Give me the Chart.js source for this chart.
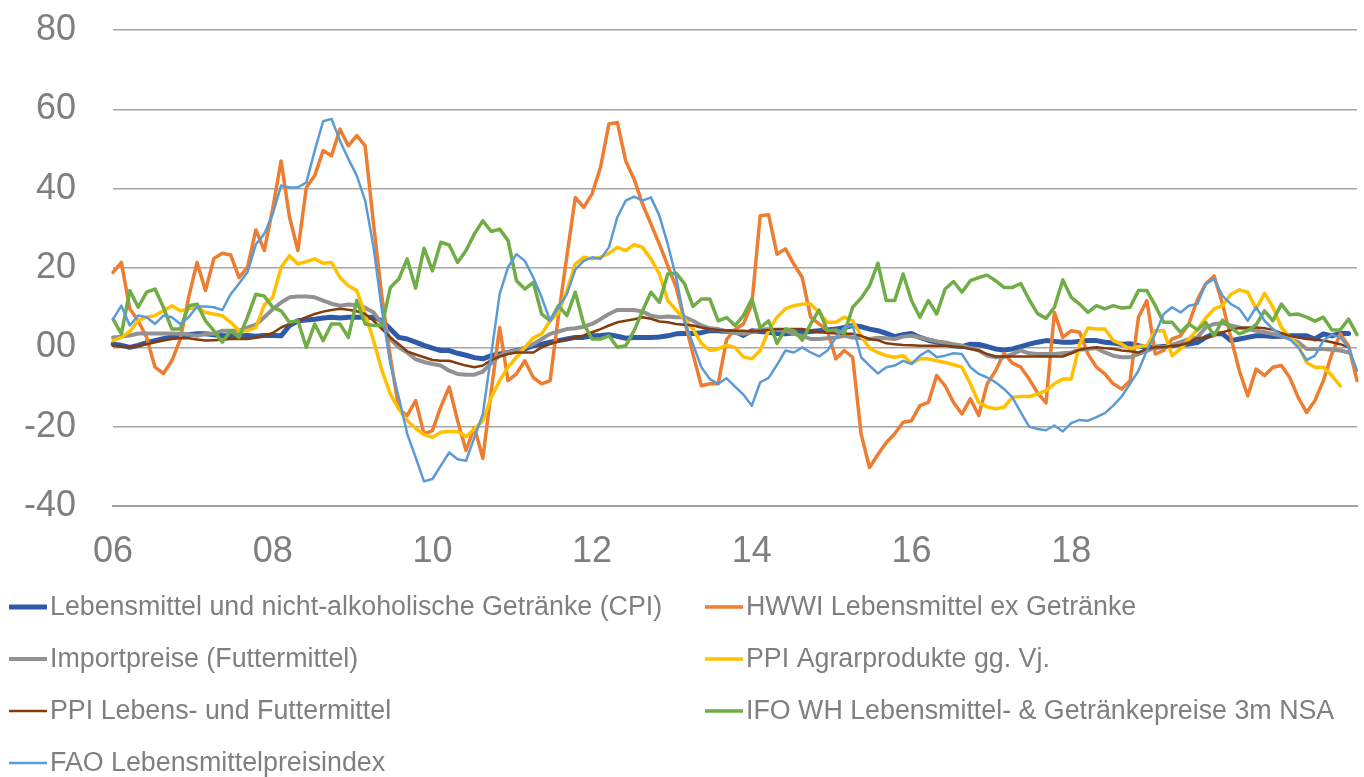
<!DOCTYPE html>
<html>
<head>
<meta charset="utf-8">
<script src="https://cdn.jsdelivr.net/npm/chart.js@4.4.1/dist/chart.umd.min.js"></script>
<style>
  html, body { margin: 0; padding: 0; background: #ffffff; }
  #wrap { width: 1364px; height: 777px; position: relative; }
</style>
</head>
<body>
<div id="wrap"><canvas id="c" width="1364" height="777"></canvas></div>
<script>
// ---- Data (monthly) ----
const tickLabels = ['06', '08', '10', '12', '14', '16', '18'];
const TICK_EVERY = 19; // one x label every 19 categories, as in the reference

const seriesNames = [
  'Lebensmittel und nicht-alkoholische Getränke (CPI)',
  'HWWI Lebensmittel ex Getränke',
  'Importpreise (Futtermittel)',
  'PPI Agrarprodukte gg. Vj.',
  'PPI Lebens- und Futtermittel',
  'IFO WH Lebensmittel- & Getränkepreise 3m NSA',
  'FAO Lebensmittelpreisindex'
];

const cpi = [0.8,0.5,0,0.5,1.2,1.7,2.2,2.6,3,3.2,3.4,3.4,3.2,3,2.9,2.9,3,2.8,3,3,
  2.9,5.5,6.7,6.9,7.1,7.4,7.6,7.4,7.6,7.6,7.6,7.6,6.7,4.6,2.5,2.1,1.3,0.5,-0.2,-0.8,
  -0.8,-1.5,-2,-2.6,-2.9,-2.1,-1.7,-1.3,-0.8,-0.4,0.4,0.8,1.3,1.7,2.1,2.5,2.5,2.9,3,3.2,
  2.8,2.3,2.5,2.5,2.5,2.6,2.9,3.4,3.5,3.5,3.7,4.2,4.2,4,4,3,4.2,4,3.8,3.5,
  3.4,3.6,3.8,4,4.2,4.4,4.6,5,5.5,5.2,4.6,4.2,3.5,2.7,3.2,3.5,2.5,1.8,1.3,0.8,
  0.4,0.2,0.8,0.7,0.2,-0.4,-0.7,-0.4,0.2,0.8,1.3,1.7,1.5,1.3,1.3,1.5,1.7,1.7,1.3,1.1,
  0.8,0.9,0.4,0,0,0.2,0.4,0.8,0.8,1.2,2.5,3.4,3.4,1.7,2.1,2.5,2.9,2.9,2.7,2.8,
  2.9,2.9,2.9,2.1,3.4,2.9,3.5,3.5,null];

const hwwi = [18.9,21.4,9.7,6.7,2.5,-5,-6.6,-3.4,2,12.6,21.4,14.3,22.4,23.7,23.3,17.6,20.2,29.6,24.4,35,
  47,32.8,24.4,40.3,43.3,49.6,48.3,55,50.8,53.4,50.8,31,12.6,-2.5,-15.5,-17.2,-13.4,-21.8,-21,-15,
  -10,-18.5,-26,-20.2,-28,-11,5,-8.4,-6.7,-3.4,-7.6,-9.2,-8.4,8,23,37.8,35.3,38.7,45.4,56.3,
  56.7,47,42.4,36.1,31.1,26,20.6,15.1,6.7,-1.7,-9.7,-9.2,-9.2,2,4.5,5.9,10.9,33.2,33.4,23.5,
  24.8,21,17.6,7.6,5.9,4.2,-2.9,-0.8,-2.5,-21.8,-30.3,-27,-24,-21.8,-18.9,-18.5,-14.7,-13.9,-7.1,-9.7,
  -13.9,-16.8,-13,-17.2,-9.2,-5.9,-1.5,-4,-5,-8,-11.5,-14,8.8,2.5,4.2,3.8,-1.7,-5,-6.7,-9.2,
  -10.5,-8.4,7.6,11.8,-1.7,-0.8,2.1,2.9,5.9,12,16,18,10.9,2.5,-5.9,-12.2,-5.5,-7.1,-5,-4.6,
  -7.6,-12.6,-16.4,-13.4,-8.4,-1.7,3.4,0.4,-8.4];

const importFutter = [2.5,2.7,3,3.5,3.5,3.5,3.5,3.5,3.4,3.2,2.9,3.4,3.4,4.2,4.2,4.2,5,5.7,7.6,9.6,
  11.3,12.6,12.8,12.8,12.6,11.8,11,10.5,10.8,10.6,10,8.8,5.9,2.1,0,-1.3,-3,-3.7,-4.2,-4.6,
  -5.9,-6.7,-6.9,-6.9,-6.1,-4,-2.1,-1.3,-0.8,0,0.8,2.1,3.4,4,4.6,4.8,5.2,5.9,7.1,8.4,
  9.4,9.4,9.4,9,8,7.6,7.8,7.6,7.6,6.7,5.5,4.8,4.6,4,3.6,3.4,3.8,4.4,4.6,4.4,
  4.2,3.4,2.9,2.1,2.1,2.3,2.5,2.9,2.5,2.3,2.1,2.4,2.3,2.1,2.7,2.9,2.5,2,1.5,1.2,
  0.8,0.4,-0.2,-0.8,-2.1,-2.5,-2.5,-1.7,-0.8,-1.5,-1.7,-1.7,-1.7,-1.5,-1.3,-0.6,-0.4,-0.2,-1.3,-2.1,
  -2.5,-2.5,-1.7,-0.9,0,0,0.6,1.3,2.1,2.5,5,5.9,6.1,5.5,5,4.6,4.2,3.8,3.4,2.9,
  2.1,1.3,-0.4,-0.4,-0.4,-0.6,-0.8,-1.3,null];

const ppiAgrar = [1.7,2.5,4,6.7,7.6,8,9.2,10.5,9.2,9.7,10.1,8.8,8.4,8,6.3,4.2,4.2,5,10.7,12.6,
  20.2,23.1,21,21.6,22.3,21.2,21.4,17.6,15.5,14.3,8.4,1.7,-5.9,-11.8,-15.5,-18.5,-20.4,-22,-22.7,-21.4,
  -21.2,-21.2,-22.5,-20.6,-18.5,-12.6,-8.4,-5,-2.5,0,2.4,3.4,6.7,8.8,14.3,21,22.7,22.3,22.7,23.7,
  25.2,24.4,25.9,25.2,22.3,18.5,11.8,9.4,7.1,4.6,1,-0.8,-0.4,0.5,0,-2.4,-2.9,-0.8,4.2,7.6,
  9.7,10.5,10.9,10.9,8.8,6.3,6.3,7.6,6.7,2.9,-0.2,-1.3,-2.1,-2.5,-2.1,-4,-2.9,-2.9,-3.4,-3.8,
  -4.4,-5,-9.2,-13.9,-15,-15.5,-15.1,-12.6,-12.4,-12.4,-11.8,-10.9,-9.2,-8,-8,0.8,4.9,4.6,4.6,1.7,
  0.8,-0.4,0.2,0.4,4.2,4.2,-2.1,-0.4,2.1,4.4,7.4,9.7,10.5,13.4,14.5,13.9,9.7,13.6,10.1,5,
  2.7,0.4,-3.8,-5,-5,-7.1,-9.7,null,null];

const ppiLebens = [0.4,0.2,0,0.4,0.8,1.3,1.7,2.1,2.3,2.3,2,1.7,1.8,1.9,2.1,2.1,2.1,2.4,3,3.6,
  5,5.9,6.7,7.6,8.4,9,9.4,9.7,9.5,9.1,8.4,6.7,4.6,2.5,0.8,-1,-1.8,-2.5,-3.2,-3.4,
  -3.4,-4,-4.6,-5,-4.6,-3.2,-2.3,-1.7,-1.3,-1.3,-1.3,0,0.8,1.5,2,2.5,3,3.8,4.6,5.5,
  6.3,6.7,7.1,7.6,7.2,6.5,6.3,5.9,5.7,5.5,5,4.6,4.4,4.2,4.2,4.2,4,4.2,4.4,4.6,
  4.6,4.6,4.6,4.2,3.8,3.7,3.5,3.4,3.4,2.9,2.1,1.8,1,0.8,0.6,0.5,0.4,0.4,0.4,0.4,
  0.2,0,-0.4,-0.8,-1.7,-2.3,-2.3,-2.3,-2.3,-2.3,-2.3,-2.3,-2.3,-2.3,-1.5,-0.6,-0.2,0,-0.2,-0.4,
  -0.8,-1,-1.3,-0.4,0,0,0.4,0.6,1.2,2.3,2.5,3,3.8,4.4,4.9,5,5,4.8,4.4,3.6,
  2.9,2.5,2.1,1.9,1.7,1.3,0.8,0,null];

const ifo = [7.1,3.4,14.3,10.1,13.9,14.7,10.1,4.6,4.6,10.5,10.9,6.7,4.2,1.3,4.2,2.5,7.6,13.4,12.9,10.1,
  9.2,6.3,6.7,0,5.9,1.7,5.9,5.9,2.5,11.8,5.9,5.5,5.5,15.1,17.2,22.3,14.9,25,19.3,26.5,
  25.8,21.4,24.4,28.6,31.9,29.2,29.8,26.9,16.8,14.7,16.4,8.4,6.7,10.5,8,13.9,5.9,2.1,2.1,2.9,
  0,0.4,4.2,9.2,13.9,11.3,18.5,18.7,16,10.3,12.2,12.2,6.7,7.5,5.5,8,12.2,4.9,6.7,1,
  4.6,4.2,1.8,5.9,9.4,4.2,4.4,3.5,10.1,12.4,15.5,21.2,11.8,11.8,18.5,11.8,7.6,11.8,8.4,14.7,
  16.6,13.9,16.8,17.6,18.2,16.8,15.1,15.1,16.1,12,8.5,7.3,10.1,17,12.6,10.9,8.8,10.5,9.7,10.5,
  9.9,10.1,14.3,14.3,10.5,6.3,6.3,3.8,5.9,4.4,6.3,2.9,6.9,4.9,3.4,4.2,5.7,9.2,6.7,10.9,
  8.2,8.4,7.6,6.6,7.6,4.4,4.4,7.1,3.2];

const fao = [7.1,10.5,5.5,8,7.6,5.9,8,7.6,5.9,7.6,10.3,10.3,10.1,9.4,13.4,16.1,18.9,26,28.6,33.6,
  40.8,40.3,40.3,41.6,49.6,57,57.6,52.1,47.5,43.3,37,25.2,9.2,-4.2,-12.6,-21.8,-27.7,-33.8,-33.2,-29.8,
  -26.5,-28.2,-28.6,-22.7,-16.8,-1.7,13.4,20.2,23.5,21.8,17.6,12.6,6.7,10.1,13.4,19.6,21.8,22.7,22.3,25.2,
  32.8,37,38,37,37.8,33.2,26,17.6,6.7,0.8,-5,-8,-9.2,-7.8,-9.9,-11.9,-14.7,-8.8,-7.7,-4.4,
  -0.8,-1.3,0,-1.3,-2.3,-0.8,2.5,5,5.5,-2.5,-4.6,-6.6,-5,-4.6,-3.4,-4.2,-2.1,-0.8,-2.5,-2.1,
  -1.5,-1.7,-5,-6.7,-7.6,-8.8,-10.5,-12.6,-16.4,-20,-20.6,-20.9,-19.7,-21.2,-19.1,-18.3,-18.5,-17.6,-16.6,-14.7,
  -12.4,-9.2,-5.9,-0.8,3.4,8.4,10.1,8.8,10.5,10.9,16,17.2,13,10.9,9.7,6.7,10.1,6.7,4.6,2.9,
  2.1,0,-3.2,-2.1,1.7,3.2,2.5,0,-5.9];

// categories: one per month
const categories = cpi.map((_, i) => 'M' + i);

const seriesData = [cpi, hwwi, importFutter, ppiAgrar, ppiLebens, ifo, fao];
const seriesColors = ['#2f5aa8', '#ed7d31', '#929292', '#ffc000', '#843c0c', '#70ad47', '#5b9bd5'];
const seriesWidths = [5, 3.5, 4, 3.5, 2.5, 3.5, 2.5];

const FONT = "'Liberation Sans', Arial, sans-serif";
const TEXT_COLOR = '#7f7f7f';

const datasets = seriesData.map((d, i) => ({
  label: seriesNames[i],
  data: d,
  borderColor: seriesColors[i],
  backgroundColor: seriesColors[i],
  borderWidth: seriesWidths[i],
  pointRadius: 0,
  pointHoverRadius: 0,
  tension: 0,
  fill: false,
  spanGaps: false,
  borderJoinStyle: 'round',
  borderCapStyle: 'round',
  order: seriesData.length - i   // later series drawn on top, as in the reference
}));

// two-column legend below the plot
const twoColLegend = {
  id: 'twoColLegend',
  afterDraw(chart) {
    const ctx = chart.ctx;
    const colLineX = [9, 705];
    const lineLen = 38;
    const rowY = [607, 659, 711, 763];
    ctx.save();
    ctx.font = '26.8px ' + FONT;
    ctx.textBaseline = 'middle';
    ctx.textAlign = 'left';
    chart.data.datasets.forEach((ds, i) => {
      const col = i % 2, row = Math.floor(i / 2);
      const x0 = colLineX[col], y = rowY[row];
      ctx.strokeStyle = ds.borderColor;
      ctx.lineWidth = ds.borderWidth;
      ctx.lineCap = 'butt';
      ctx.beginPath();
      ctx.moveTo(x0, y);
      ctx.lineTo(x0 + lineLen, y);
      ctx.stroke();
      ctx.fillStyle = TEXT_COLOR;
      ctx.fillText(ds.label, x0 + lineLen + 3, y + 1);
    });
    ctx.restore();
  }
};

new Chart(document.getElementById('c'), {
  type: 'line',
  data: { labels: categories, datasets },
  options: {
    responsive: false,
    animation: false,
    devicePixelRatio: 1,
    layout: { padding: { left: 0, right: 7, top: 0, bottom: 0 } },
    plugins: { legend: { display: false }, tooltip: { enabled: false } },
    scales: {
      x: {
        type: 'category',
        offset: false,
        grid: { display: false, drawTicks: false },
        border: { display: true, color: '#a0a0a0', width: 2 },
        afterFit(scale) { scale.height = 271; },
        ticks: {
          autoSkip: false,
          maxRotation: 0,
          minRotation: 0,
          padding: 24,
          color: TEXT_COLOR,
          font: { family: FONT, size: 36 },
          callback(value, index) {
            return index % TICK_EVERY === 0 ? tickLabels[index / TICK_EVERY] : null;
          }
        }
      },
      y: {
        min: -40,
        max: 80,
        grid: { color: '#a6a6a6', lineWidth: 1.5, drawTicks: false },
        border: { display: false },
        afterFit(scale) {
          scale.width = 113;
          scale.paddingTop = 30;
          scale.paddingBottom = 0;
        },
        ticks: {
          stepSize: 20,
          padding: 37,
          color: TEXT_COLOR,
          font: { family: FONT, size: 36 },
          callback(v) { return v === 0 ? '00' : String(v); }
        }
      }
    }
  },
  plugins: [twoColLegend]
});
</script>
</body>
</html>
